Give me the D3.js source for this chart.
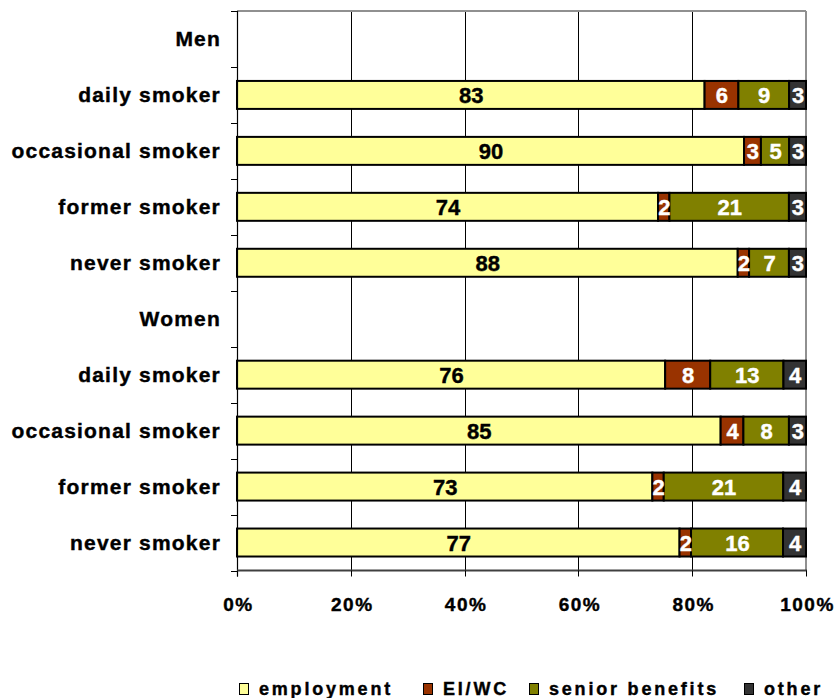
<!DOCTYPE html>
<html><head><meta charset="utf-8">
<script src="https://cdn.jsdelivr.net/npm/d3@7"></script>
<style>
html,body{margin:0;padding:0;background:#fff;}
svg{display:block;font-family:"Liberation Sans",Arial,sans-serif;font-weight:bold;}
</style></head>
<body>
<script>
const categories = ["Men","daily smoker","occasional smoker","former smoker","never smoker",
                    "Women","daily smoker","occasional smoker","former smoker","never smoker"];
const seriesNames = ["employment","EI/WC","senior benefits","other"];
const employment     = [null,83,90,74,88,null,76,85,73,77];
const eiwc           = [null, 6, 3, 2, 2,null, 8, 4, 2, 2];
const seniorBenefits = [null, 9, 5,21, 7,null,13, 8,21,16];
const other          = [null, 3, 3, 3, 3,null, 4, 3, 4, 4];
const tickLabels = ["0%","20%","40%","60%","80%","100%"];
const colors = ["#FFFF99","#993300","#808000","#333333"];
const labelColors = ["#000","#fff","#fff","#fff"];

const W = 837, H = 698;
const x0 = 237, x1 = 806, y0 = 11, y1 = 570.5;

const svg = d3.select("body").append("svg").attr("width", W).attr("height", H);

const rows = categories.map((c, i) => ({
  key: i, cat: c,
  employment: employment[i] || 0, "EI/WC": eiwc[i] || 0,
  "senior benefits": seniorBenefits[i] || 0, other: other[i] || 0,
  has: employment[i] != null
}));

const x = d3.scaleLinear().domain([0, 1]).range([x0, x1]);
const y = d3.scaleBand().domain(rows.map(r => r.key)).range([y0, y1]).paddingInner(0.5).paddingOuter(0.25);
const yb = d3.scaleBand().domain(rows.map(r => r.key)).range([y0, y1]);

// gridlines
svg.append("g").selectAll("line").data([0.2, 0.4, 0.6, 0.8]).join("line")
  .attr("x1", d => Math.round(x(d)) + 0.5).attr("x2", d => Math.round(x(d)) + 0.5)
  .attr("y1", y0).attr("y2", y1).attr("stroke", "#000").attr("stroke-width", 1);

// top & right border
svg.append("line").attr("x1", x0).attr("x2", x1).attr("y1", y0).attr("y2", y0)
  .attr("stroke", "#909090").attr("stroke-width", 2);
svg.append("line").attr("x1", x1).attr("x2", x1).attr("y1", y0).attr("y2", y1)
  .attr("stroke", "#909090").attr("stroke-width", 2);

const stack = d3.stack().keys(seriesNames).offset(d3.stackOffsetExpand);
const stacked = stack(rows.filter(r => r.has));

const groups = svg.append("g").selectAll("g").data(stacked).join("g")
  .attr("fill", (d, i) => colors[i]);
groups.selectAll("rect").data(d => d).join("rect")
  .attr("x", d => x(d[0])).attr("width", d => x(d[1]) - x(d[0]))
  .attr("y", d => y(d.data.key)).attr("height", y.bandwidth())
  .attr("stroke", "#000").attr("stroke-width", 2);

// value labels
stacked.forEach((s, si) => {
  svg.append("g").selectAll("text").data(s).join("text")
    .attr("x", d => (x(d[0]) + x(d[1])) / 2 + 0.5)
    .attr("y", d => y(d.data.key) + y.bandwidth() / 2 + 8)
    .attr("text-anchor", "middle")
    .attr("font-size", 22)
    .attr("fill", labelColors[si]).attr("stroke", labelColors[si]).attr("stroke-width", 0.4)
    .text(d => d.data[s.key]);
});

// left axis
svg.append("line").attr("x1", x0 + 0.5).attr("x2", x0 + 0.5).attr("y1", y0).attr("y2", y1 + 6)
  .attr("stroke", "#000").attr("stroke-width", 1.2);
const bounds = d3.range(categories.length + 1).map(i => i === categories.length ? y1 : yb(i));
svg.append("g").selectAll("line").data(bounds).join("line")
  .attr("x1", x0 - 6).attr("x2", x0).attr("y1", d => Math.round(d) + 0.5).attr("y2", d => Math.round(d) + 0.5)
  .attr("stroke", "#000").attr("stroke-width", 1);
svg.append("g").selectAll("text").data(rows).join("text")
  .attr("x", 221).attr("y", d => yb(d.key) + yb.bandwidth() / 2 + 7.5)
  .attr("text-anchor", "end").attr("font-size", 21).attr("letter-spacing", "1.2px")
  .attr("fill", "#000").attr("stroke", "#000").attr("stroke-width", 0.4).text(d => d.cat);

// bottom axis
svg.append("line").attr("x1", x0).attr("x2", x1 + 1).attr("y1", y1).attr("y2", y1)
  .attr("stroke", "#404040").attr("stroke-width", 2);
const ticks = d3.range(0, 1.0001, 0.2);
svg.append("g").selectAll("line").data(ticks).join("line")
  .attr("x1", d => Math.round(x(d)) + 0.5).attr("x2", d => Math.round(x(d)) + 0.5)
  .attr("y1", y1).attr("y2", y1 + 6).attr("stroke", "#000").attr("stroke-width", 1);
svg.append("g").selectAll("text").data(ticks).join("text")
  .attr("x", (d, i) => x(d) + 1.5).attr("y", 611)
  .attr("text-anchor", "middle").attr("font-size", 19).attr("letter-spacing", "1.5px")
  .attr("fill", "#000").attr("stroke", "#000").attr("stroke-width", 0.4).text((d, i) => tickLabels[i]);

// legend
const legendX = [239, 423, 529, 744];
const lg = svg.append("g").selectAll("g").data(seriesNames).join("g")
  .attr("transform", (d, i) => `translate(${legendX[i]},683)`);
lg.append("rect").attr("x", 0.5).attr("y", 0.5).attr("width", 9).attr("height", 11)
  .attr("fill", (d, i) => colors[i]).attr("stroke", "#000").attr("stroke-width", 1);
lg.append("text").attr("x", 20).attr("y", 12).attr("font-size", 18).attr("letter-spacing", "2.8px")
  .attr("fill", "#000").attr("stroke", "#000").attr("stroke-width", 0.4).text(d => d);
</script>
</body></html>
